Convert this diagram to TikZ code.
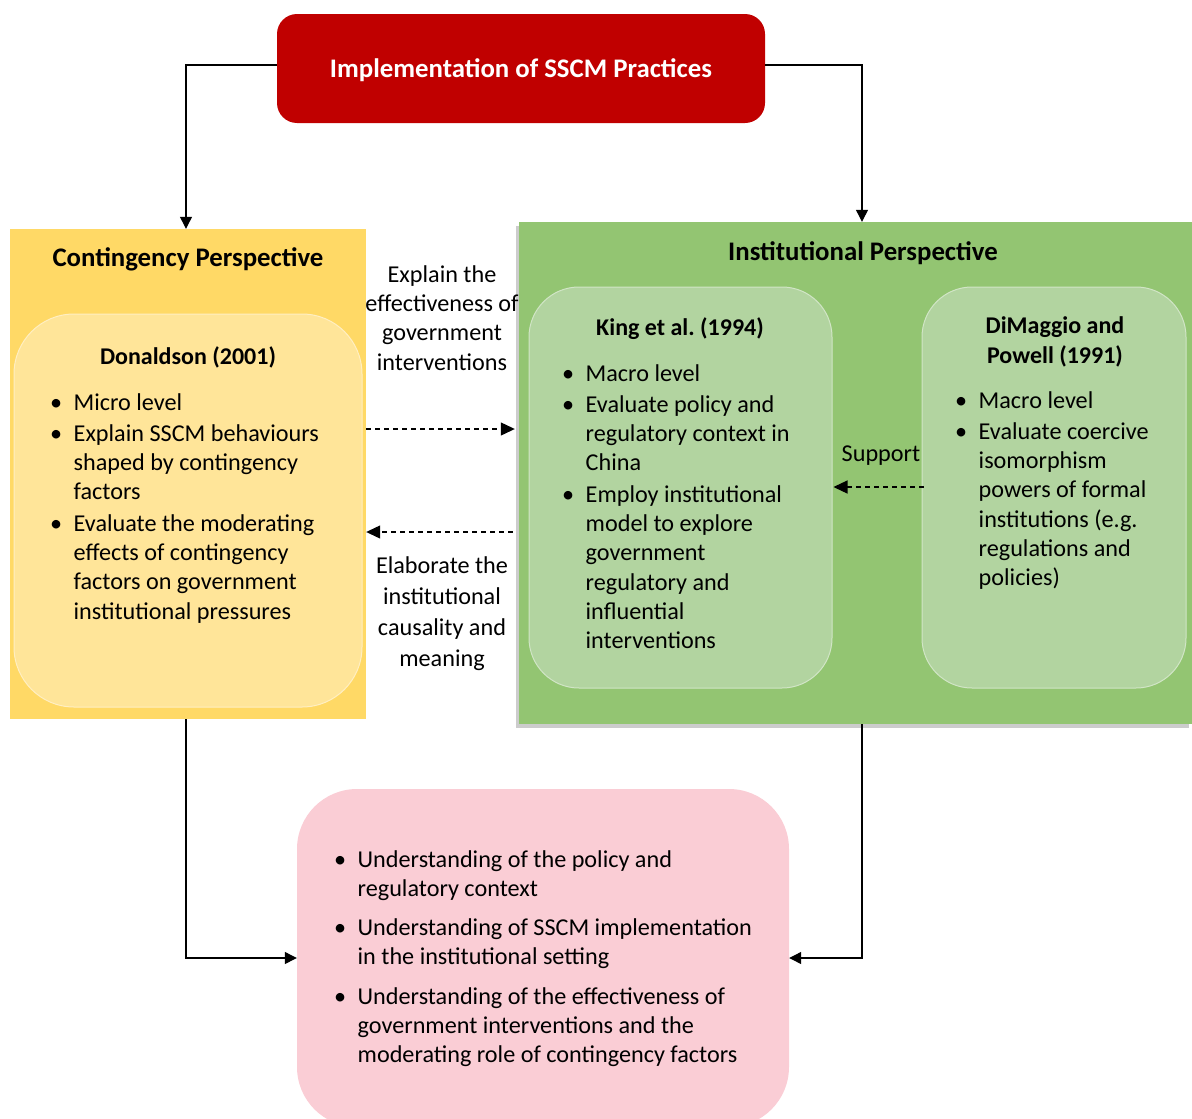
\documentclass[tikz,border=0pt]{standalone}
\usepackage{fontspec}
\setmainfont{Carlito}
\usetikzlibrary{arrows.meta,shadows}

\definecolor{redbox}{HTML}{C00000}
\definecolor{yellowout}{HTML}{FFD966}
\definecolor{yellowin}{HTML}{FFE599}
\definecolor{greenout}{HTML}{93C572}
\definecolor{greenin}{HTML}{B2D4A0}
\definecolor{pinkbox}{HTML}{FACDD5}

\frenchspacing
% bullet centred on the node origin, text 17.5pt to its right
\newcommand{\bu}{\makebox[17.5pt][l]{\makebox[0pt]{\textbullet}}}
\newcommand{\ct}{\hspace*{17.5pt}}
\newcommand{\bodyfont}{\fontsize{24.2}{29.3}\selectfont}
\newcommand{\titlefont}{\fontsize{26.8}{30}\selectfont\bfseries}
\newcommand{\subtitlefont}{\fontsize{24}{30}\selectfont\bfseries}

\begin{document}
\begin{tikzpicture}[x=1pt,y=-1pt,
  box/.style={inner sep=0pt,minimum width=#1},
  plainline/.style={line width=1.2pt,-{Triangle[length=12pt,width=12pt]}},
  dashline/.style={line width=1.2pt,dash pattern=on 5pt off 4pt,-{Triangle[length=14pt,width=13pt]}},
  txt/.style={inner sep=0pt,font=\bodyfont},
  ttl/.style={inner sep=0pt,font=\titlefont,anchor=base},
  sttl/.style={inner sep=0pt,font=\subtitlefont,anchor=base},
  lst/.style={inner sep=0pt,font=\bodyfont,anchor=base west}]

\useasboundingbox (0,0) rectangle (1192,1119);
\clip (0,0) rectangle (1192,1119);

% top box
\node[box=488pt,minimum height=109pt,fill=redbox,rounded corners=20pt] (red) at (521,68.5) {};
\node[ttl,text=white] (redt) at (521,77) {Implementation of SSCM Practices};

% contingency perspective
\node[box=356pt,minimum height=490pt,fill=yellowout] (yo) at (188,474) {};
\node[box=348pt,minimum height=393pt,fill=yellowin,draw=yellowin!60!white,line width=1pt,rounded corners=60pt] (yi) at (188,510.5) {};
\node[ttl] (yt) at (188,266) {Contingency Perspective};
\node[sttl] (dt) at (188,364) {Donaldson (2001)};
\node[lst] (dl) at (56,410) {\begin{tabular}[t]{@{}l@{}}
\bu Micro level\\[2pt]
\bu Explain SSCM behaviours\\
\ct shaped by contingency\\
\ct factors\\[2pt]
\bu Evaluate the moderating\\
\ct effects of contingency\\
\ct factors on government\\
\ct institutional pressures
\end{tabular}};

% institutional perspective
\node[box=673pt,minimum height=502pt,fill=greenout,
  drop shadow={shadow xshift=-3pt,shadow yshift=-4pt,opacity=0.2,fill=black}] (go) at (855.5,473) {};
\node[box=303pt,minimum height=401pt,fill=greenin,draw=greenin!60!white,line width=1pt,rounded corners=50pt] (king) at (680.5,487.5) {};
\node[box=264pt,minimum height=401pt,fill=greenin,draw=greenin!60!white,line width=1pt,rounded corners=50pt] (dim) at (1054,487.5) {};
\node[ttl] (gt) at (863,260) {Institutional Perspective};
\node[sttl] (kt) at (680,335) {King et al. (1994)};
\node[sttl,align=center] (dmt) at (1055,363) {DiMaggio and\\Powell (1991)};
\node[lst] (kl) at (568,381) {\begin{tabular}[t]{@{}l@{}}
\bu Macro level\\[2pt]
\bu Evaluate policy and\\
\ct regulatory context in\\
\ct China\\[2pt]
\bu Employ institutional\\
\ct model to explore\\
\ct government\\
\ct regulatory and\\
\ct influential\\
\ct interventions
\end{tabular}};
\node[lst] (dml) at (961,408) {\begin{tabular}[t]{@{}l@{}}
\bu Macro level\\[2pt]
\bu Evaluate coercive\\
\ct isomorphism\\
\ct powers of formal\\
\ct institutions (e.g.\\
\ct regulations and\\
\ct policies)
\end{tabular}};

% outcome box
\node[box=492pt,minimum height=338pt,fill=pinkbox,rounded corners=60pt] (pink) at (543,958) {};
\node[lst] (pl) at (340,867) {\begin{tabular}[t]{@{}l@{}}
\bu Understanding of the policy and\\
\ct regulatory context\\[10pt]
\bu Understanding of SSCM implementation\\
\ct in the institutional setting\\[10pt]
\bu Understanding of the effectiveness of\\
\ct government interventions and the\\
\ct moderating role of contingency factors
\end{tabular}};

% link labels (anchored on the last line)
\node[txt,anchor=base,align=center] (lab1) at (442,370) {Explain the\\effectiveness of\\government\\interventions};
\node[txt,anchor=base,align=center] (lab2) at (442,666) {Elaborate the\\[1.5pt]institutional\\[1.5pt]causality and\\[1.5pt]meaning};
\node[txt,anchor=base] (lab3) at (881,461) {Support};

% connectors
\draw[plainline] (red.west |- 0,65) -| (yo.north -| 186,0);
\draw[plainline] (red.east |- 0,65) -| (go.north -| 862,0);
\draw[plainline] (yo.south -| 186,0) |- (pink.west);
\draw[plainline] (go.south -| 862,0) |- (pink.east);
\draw[dashline] (yo.east |- 0,429) -- ([xshift=-4pt]go.west |- 0,429);
\draw[dashline] ([xshift=-6pt]go.west |- 0,532) -- (yo.east |- 0,532);
\draw[dashline] ([xshift=2pt]dim.west |- 0,487) -- ([xshift=1pt]king.east |- 0,487);
\end{tikzpicture}
\end{document}
